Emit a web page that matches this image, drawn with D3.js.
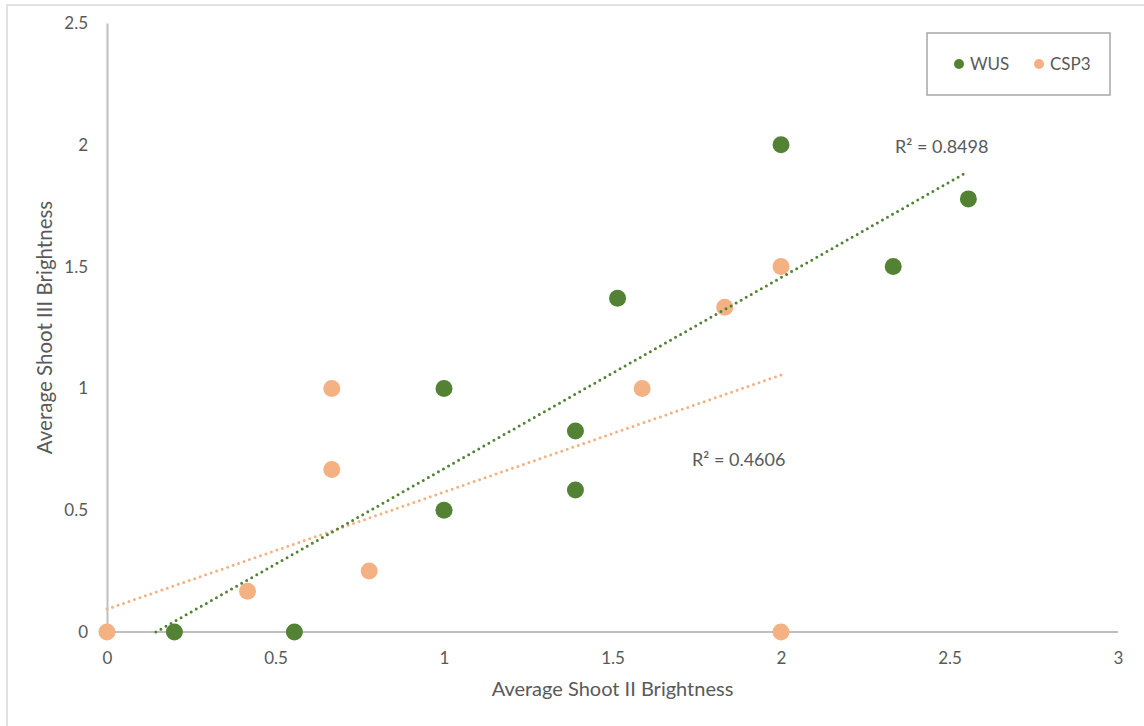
<!DOCTYPE html>
<html>
<head>
<meta charset="utf-8">
<script src="https://cdn.jsdelivr.net/npm/d3@7"></script>
<style>
  html, body { margin: 0; padding: 0; background: #fff; }
  svg text { font-family: Lato, "Open Sans", "Liberation Sans", sans-serif; fill: #595959; }
</style>
</head>
<body>
<svg id="chart" width="1144" height="726"></svg>
<script>
// Scatter of shoot brightness: Shoot II (x) vs Shoot III (y)
const wusX = [0.2, 0.556, 1, 1, 1.39, 1.39, 1.515, 2, 2.333, 2.556];
const wusY = [0, 0, 1, 0.5, 0.825, 0.583, 1.37, 2, 1.5, 1.778];
const cspX = [0, 0.417, 0.667, 0.667, 0.778, 1.588, 1.833, 2, 2];
const cspY = [0, 0.167, 1, 0.667, 0.25, 1, 1.333, 1.5, 0];

// Linear trendline endpoints and fit quality
const wusTrendX = [0.145, 2.542];
const wusTrendY = [0, 1.88];
const cspTrendX = [0, 2];
const cspTrendY = [0.094, 1.055];
const wusR2 = "0.8498";
const cspR2 = "0.4606";

const xTicks = [0, 0.5, 1, 1.5, 2, 2.5, 3];
const yTicks = [0, 0.5, 1, 1.5, 2, 2.5];
const seriesNames = ["WUS", "CSP3"];
const seriesColors = ["#548235", "#F4B183"];

const svg = d3.select("#chart");

// Outer chart frame
svg.append("rect")
  .attr("x", 7).attr("y", 5).attr("width", 1200).attr("height", 800)
  .attr("fill", "none").attr("stroke", "#d9d9d9").attr("stroke-width", 1.5);

const plot = { left: 107, right: 1118, top: 23, bottom: 632 };
const x = d3.scaleLinear().domain([0, 3]).range([plot.left, plot.right]);
const y = d3.scaleLinear().domain([0, 2.5]).range([plot.bottom, plot.top]);

// Axes
const xAxis = svg.append("g").attr("transform", `translate(0,${plot.bottom})`)
  .call(d3.axisBottom(x).tickValues(xTicks).tickSize(0).tickPadding(20).tickFormat(d3.format("")));
const yAxis = svg.append("g").attr("transform", `translate(${plot.left},0)`)
  .call(d3.axisLeft(y).tickValues(yTicks).tickSize(0).tickPadding(19).tickFormat(d3.format("")));
[xAxis, yAxis].forEach(g => {
  g.select(".domain").attr("stroke", "#bfbfbf").attr("stroke-width", 2);
  g.selectAll("text").attr("font-size", 17).attr("fill", "#595959")
    .style("font-family", "Lato, 'Open Sans', sans-serif");
});
xAxis.select(".domain").attr("d", `M${plot.left},0H${plot.right}`);

// Axis titles
svg.append("text")
  .attr("x", (plot.left + plot.right) / 2).attr("y", 696)
  .attr("text-anchor", "middle").attr("font-size", 20)
  .text("Average Shoot II Brightness");
svg.append("text")
  .attr("transform", `translate(52,${(plot.top + plot.bottom) / 2 + 0}) rotate(-90)`)
  .attr("text-anchor", "middle").attr("font-size", 20.5)
  .text("Average Shoot III Brightness");

// Dotted trendlines
const line = d3.line().x(d => x(d[0])).y(d => y(d[1]));
function trend(xs, ys, color) {
  svg.append("path")
    .datum(d3.zip(xs, ys))
    .attr("d", line)
    .attr("fill", "none")
    .attr("stroke", color)
    .attr("stroke-width", 3)
    .attr("stroke-linecap", "round")
    .attr("stroke-dasharray", "0,5.8");
}

// Markers
function points(xs, ys, color) {
  svg.append("g").selectAll("circle")
    .data(d3.zip(xs, ys))
    .join("circle")
    .attr("cx", d => x(d[0]))
    .attr("cy", d => y(d[1]))
    .attr("r", 8.5)
    .attr("fill", color);
}

points(cspX, cspY, seriesColors[1]);
points(wusX, wusY, seriesColors[0]);
trend(cspTrendX, cspTrendY, seriesColors[1]);
trend(wusTrendX, wusTrendY, seriesColors[0]);

// R² labels
svg.append("text").attr("x", 895).attr("y", 153).attr("font-size", 18).text("R² = " + wusR2);
svg.append("text").attr("x", 692).attr("y", 466).attr("font-size", 18).text("R² = " + cspR2);

// Legend
const legend = svg.append("g");
legend.append("rect")
  .attr("x", 927).attr("y", 33).attr("width", 183).attr("height", 62)
  .attr("fill", "#fff").attr("stroke", "#a6a6a6").attr("stroke-width", 1.5);
const legendX = [959, 1039];
seriesNames.forEach((name, i) => {
  legend.append("circle").attr("cx", legendX[i]).attr("cy", 64).attr("r", 5).attr("fill", seriesColors[i]);
  legend.append("text").attr("x", legendX[i] + 11).attr("y", 70).attr("font-size", 17).text(name);
});
</script>
</body>
</html>
